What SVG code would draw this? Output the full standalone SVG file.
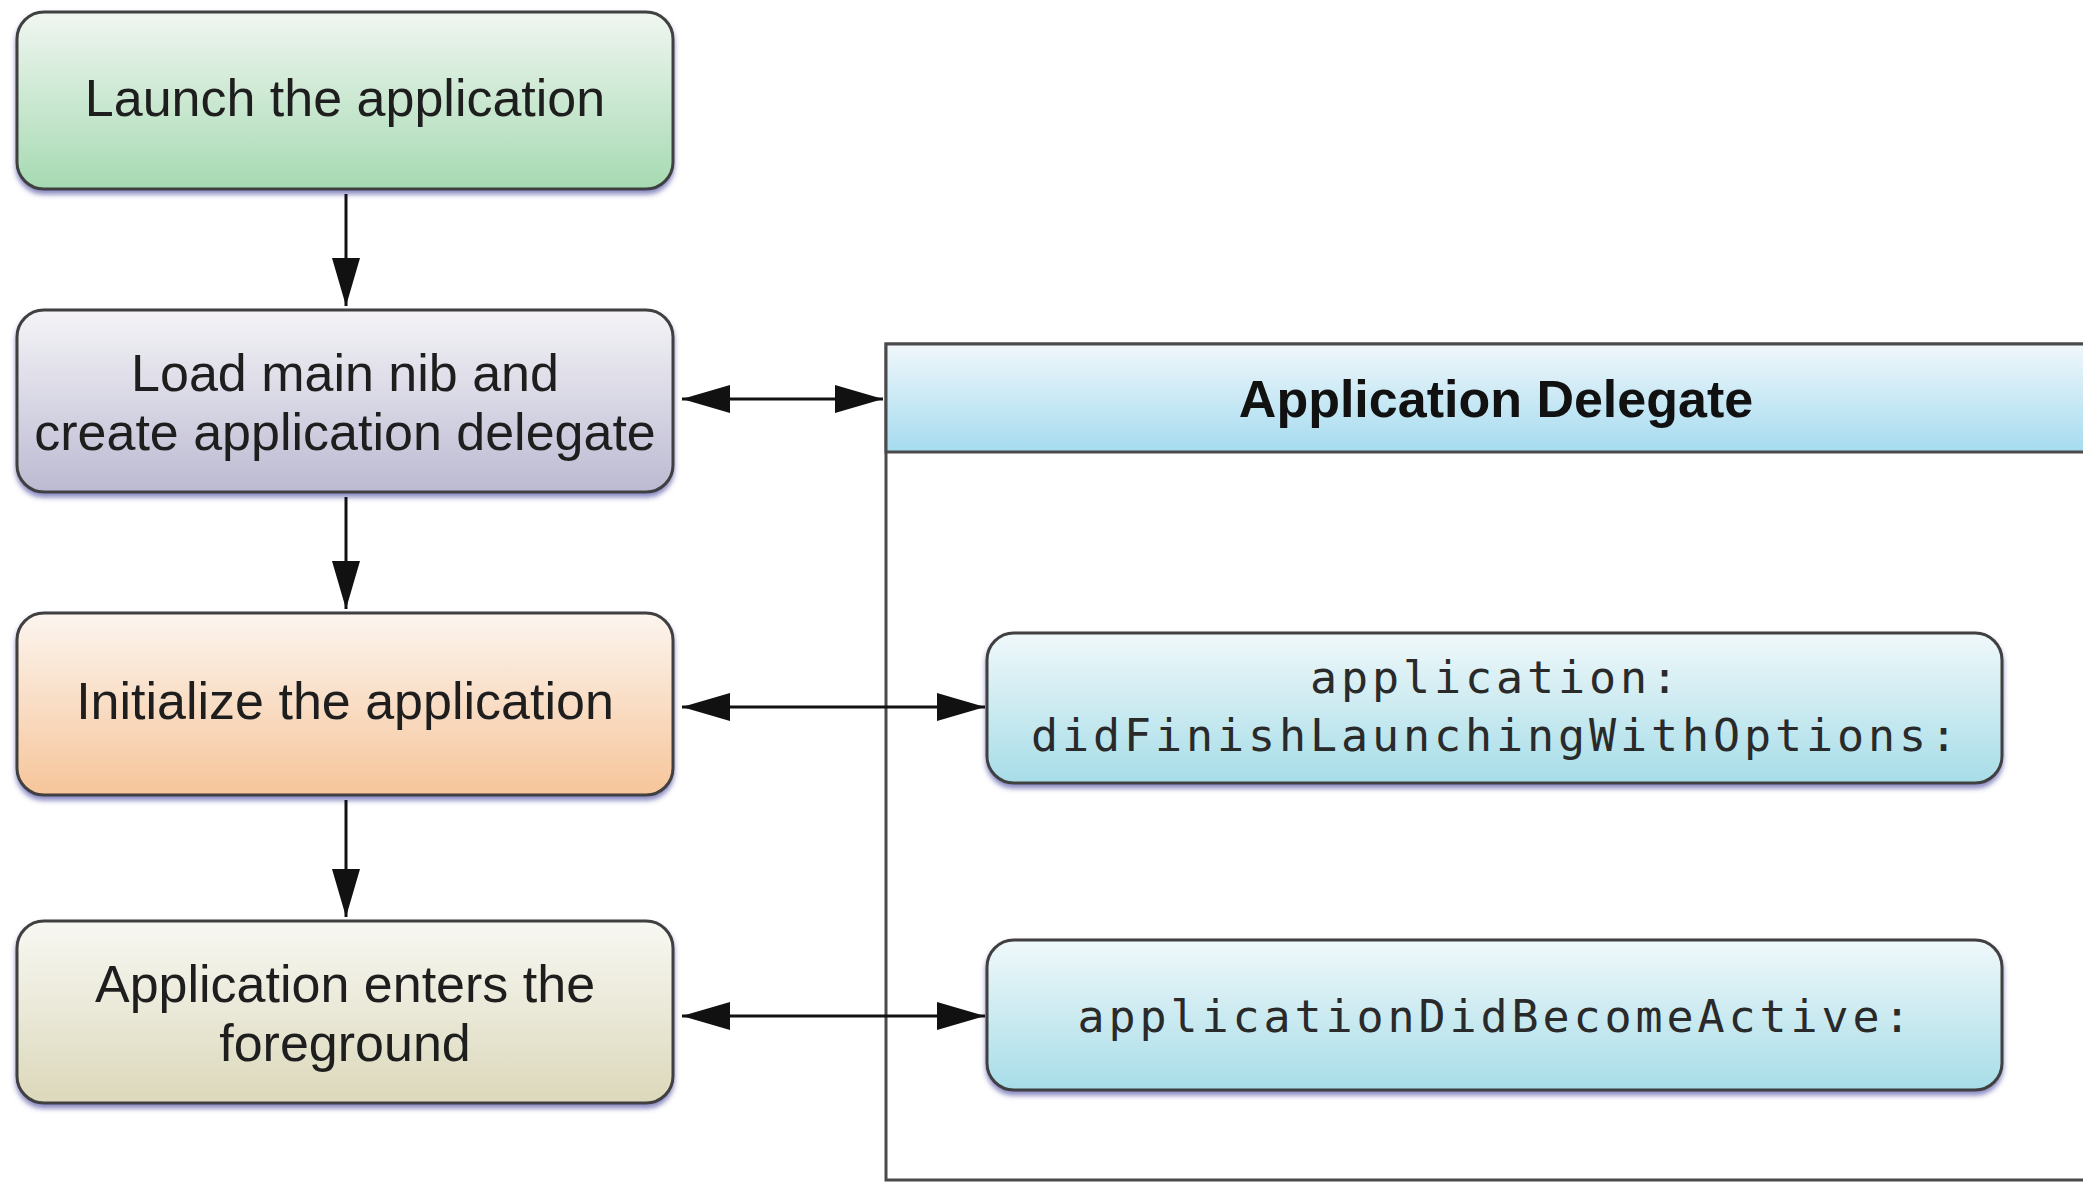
<svg xmlns="http://www.w3.org/2000/svg" width="2083" height="1183" viewBox="0 0 2083 1183">
<style>
.box{stroke:#3f3f3f;stroke-width:3;filter:url(#sh)}
.lbl{font-family:"Liberation Sans",Arial,sans-serif;font-size:52px;fill:#1e1e1e;text-anchor:middle}
.hdr{font-family:"Liberation Sans",Arial,sans-serif;font-size:52px;font-weight:bold;fill:#111;text-anchor:middle}
.mono{font-family:"DejaVu Sans Mono","Liberation Mono",monospace;font-size:45px;letter-spacing:3.9px;fill:#2a2a2a;text-anchor:middle}
.conn{stroke:#111;stroke-width:3;fill:none}
</style>
<defs>
<filter id="sh" x="-5%" y="-10%" width="110%" height="125%">
<feDropShadow dx="0" dy="4" stdDeviation="2.5" flood-color="#3a3a9a" flood-opacity="0.6"/>
</filter>
<linearGradient id="gGreen" x1="0" y1="0" x2="0" y2="1"><stop offset="0" stop-color="#f0f6f1"/><stop offset="1" stop-color="#a6dab2"/></linearGradient>
<linearGradient id="gLav" x1="0" y1="0" x2="0" y2="1"><stop offset="0" stop-color="#f4f4f7"/><stop offset="1" stop-color="#bcbad2"/></linearGradient>
<linearGradient id="gOrange" x1="0" y1="0" x2="0" y2="1"><stop offset="0" stop-color="#fcf5ef"/><stop offset="1" stop-color="#f6c59a"/></linearGradient>
<linearGradient id="gKhaki" x1="0" y1="0" x2="0" y2="1"><stop offset="0" stop-color="#f8f8f3"/><stop offset="1" stop-color="#dcd8bb"/></linearGradient>
<linearGradient id="gBlue" x1="0" y1="0" x2="0" y2="1"><stop offset="0" stop-color="#f0f8fa"/><stop offset="1" stop-color="#a7dde8"/></linearGradient>
<linearGradient id="gHdr" x1="0" y1="0" x2="0" y2="1"><stop offset="0" stop-color="#f0f7fb"/><stop offset="1" stop-color="#a5dbef"/></linearGradient>
<marker id="ah" viewBox="0 0 48 28" refX="48" refY="14" markerWidth="48" markerHeight="28" markerUnits="userSpaceOnUse" orient="auto-start-reverse">
<path d="M0,0 L48,14 L0,28 Z" fill="#111"/>
</marker>
</defs>
<rect width="2083" height="1183" fill="#fff"/>

<g id="delegate-panel">
<rect x="886" y="344" width="1300" height="836" fill="#fff" stroke="#4a4a4a" stroke-width="3"/>
<rect x="886" y="344" width="1300" height="108" fill="url(#gHdr)" stroke="#4a4a4a" stroke-width="3"/>
<text class="hdr" x="1496" y="417">Application Delegate</text>
</g>

<g id="launch">
<rect class="box" x="17" y="12" width="656" height="177" rx="27" fill="url(#gGreen)"/>
<text class="lbl" x="345" y="116">Launch the application</text>
</g>
<g id="load-nib">
<rect class="box" x="17" y="310" width="656" height="182" rx="27" fill="url(#gLav)"/>
<text class="lbl" x="345" y="391">Load main nib and</text>
<text class="lbl" x="345" y="450">create application delegate</text>
</g>
<g id="initialize">
<rect class="box" x="17" y="613" width="656" height="182" rx="27" fill="url(#gOrange)"/>
<text class="lbl" x="345" y="719">Initialize the application</text>
</g>
<g id="foreground">
<rect class="box" x="17" y="921" width="656" height="182" rx="27" fill="url(#gKhaki)"/>
<text class="lbl" x="345" y="1002">Application enters the</text>
<text class="lbl" x="345" y="1061">foreground</text>
</g>
<g id="did-finish">
<rect class="box" x="987" y="633" width="1015" height="150" rx="27" fill="url(#gBlue)"/>
<text class="mono" x="1496" y="693">application:</text>
<text class="mono" x="1496" y="751">didFinishLaunchingWithOptions:</text>
</g>
<g id="did-become-active">
<rect class="box" x="987" y="940" width="1015" height="150" rx="27" fill="url(#gBlue)"/>
<text class="mono" x="1496" y="1032">applicationDidBecomeActive:</text>
</g>

<g id="connectors">
<line class="conn" x1="346" y1="194" x2="346" y2="306" marker-end="url(#ah)"/>
<line class="conn" x1="346" y1="497" x2="346" y2="609" marker-end="url(#ah)"/>
<line class="conn" x1="346" y1="800" x2="346" y2="917" marker-end="url(#ah)"/>
<line class="conn" x1="682" y1="399" x2="883" y2="399" marker-start="url(#ah)" marker-end="url(#ah)"/>
<line class="conn" x1="682" y1="707" x2="985" y2="707" marker-start="url(#ah)" marker-end="url(#ah)"/>
<line class="conn" x1="682" y1="1016" x2="985" y2="1016" marker-start="url(#ah)" marker-end="url(#ah)"/>
</g>
</svg>
